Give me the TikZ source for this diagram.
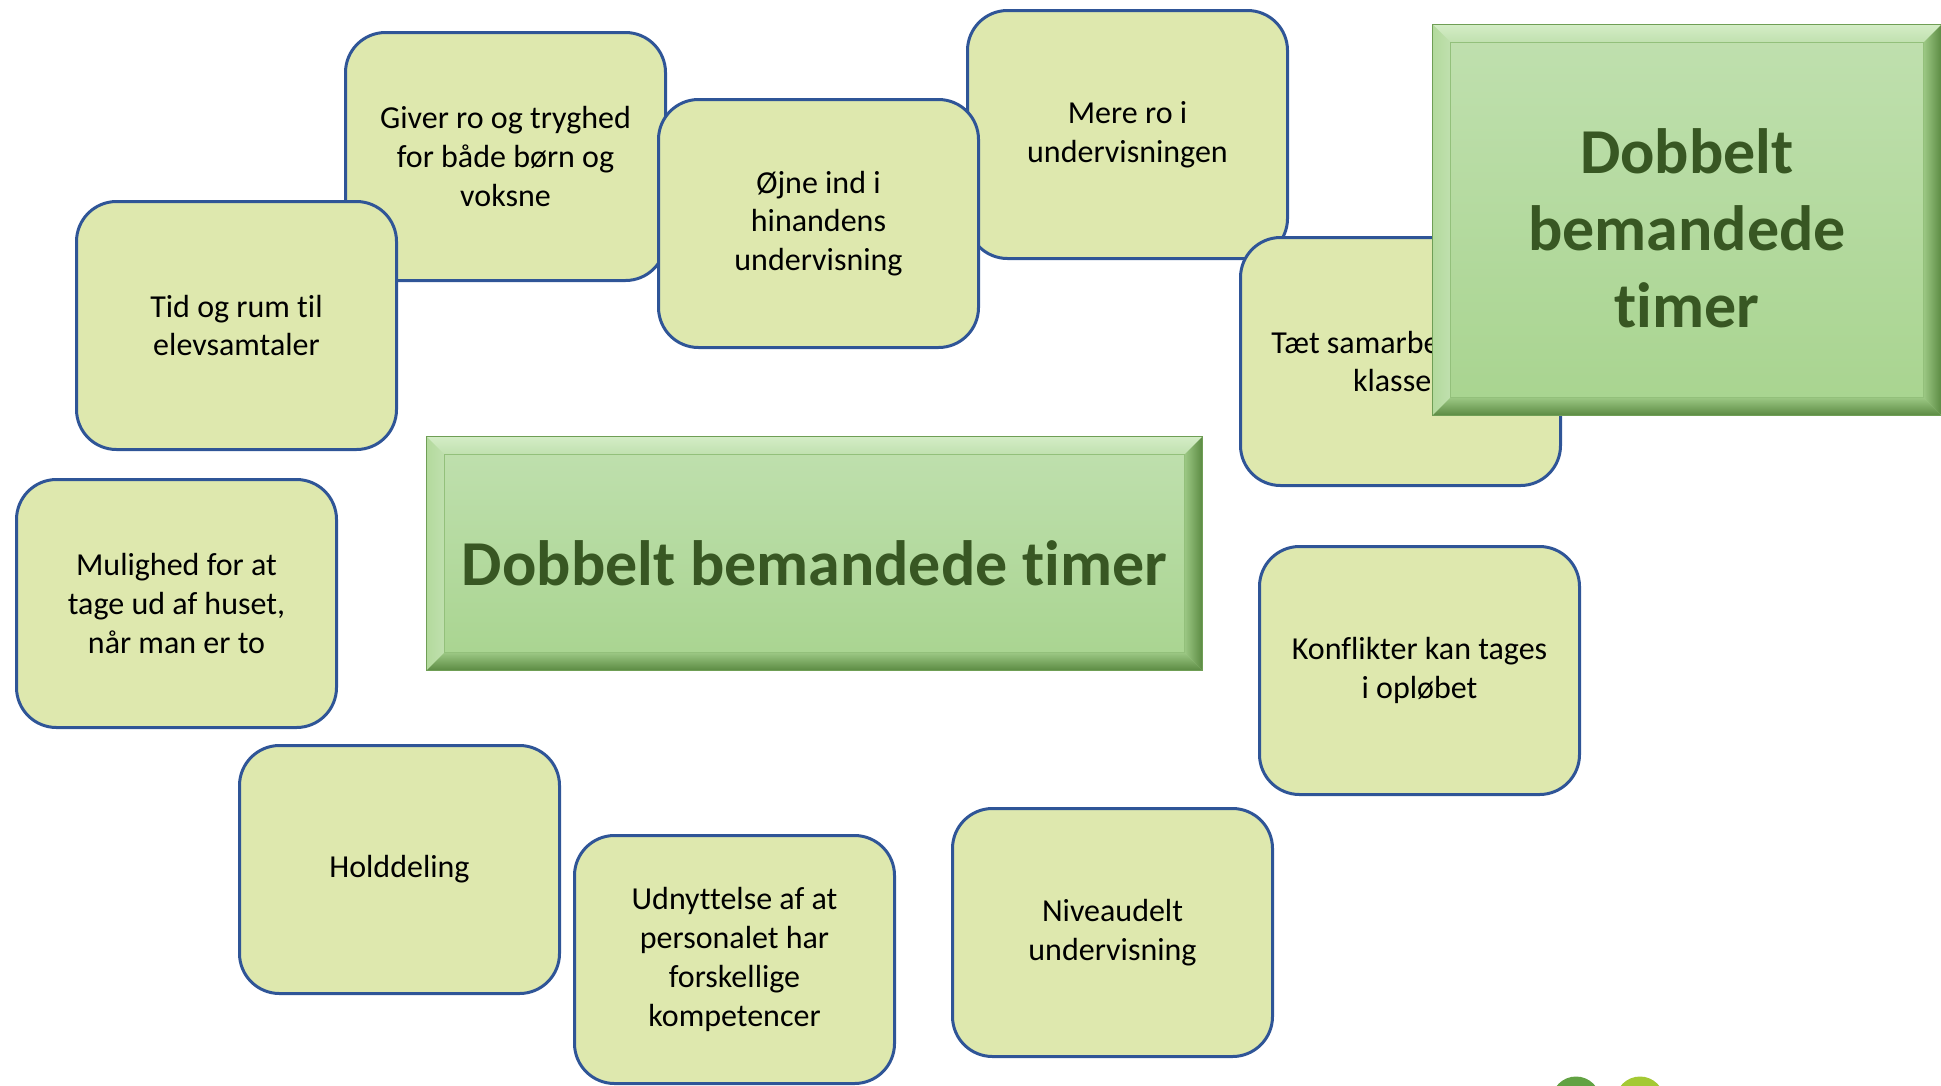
\documentclass[tikz,border=0pt]{standalone}
\usepackage{fontspec}
\setmainfont{Carlito}[Ligatures={NoCommon,NoContextual}]
\usepackage{tikz}
\usetikzlibrary{calc,shapes}

\definecolor{kortfyld}{HTML}{DEE8AE}
\definecolor{kortkant}{HTML}{2F5597}
\definecolor{hovtop}{HTML}{C0E0AF}
\definecolor{hovbund}{HTML}{A8D48F}
\definecolor{hovtekst}{HTML}{385723}
\definecolor{rand}{HTML}{6F9E55}
\definecolor{skraalys}{HTML}{D4EDC6}
\definecolor{skraavenstre}{HTML}{B3DA9D}
\definecolor{skraamork}{HTML}{5B8A42}
\definecolor{skraamid}{HTML}{9CC884}
\definecolor{indrelinje}{HTML}{93C07B}
\definecolor{cirkelA}{HTML}{62A243}
\definecolor{cirkelB}{HTML}{A4C934}

% ekstra luft over teksten
\newcommand{\luftover}[2]{\raisebox{0pt}[\dimexpr\height+#1\relax]{#2}}

\begin{document}
\begin{tikzpicture}[x=1pt,y=-1pt]
             \tikzstyle{kort}=[draw=kortkant,fill=kortfyld,line width=3pt,rounded corners=40pt,
              minimum width=320pt,minimum height=248pt,anchor=north west,align=center,
              font=\fontsize{32pt}{38.8pt}\selectfont]
             \tikzstyle{hoved}=[draw=rand,line width=1pt,shade,top color=hovtop,bottom color=hovbund,
              anchor=north west,align=center,text=hovtekst,inner sep=0pt,
              font=\fontsize{64pt}{77pt}\selectfont\bfseries,
              path picture={
               \path (path picture bounding box.north west) coordinate (bnw)
                     (path picture bounding box.north east) coordinate (bne)
                     (path picture bounding box.south west) coordinate (bsw)
                     (path picture bounding box.south east) coordinate (bse);
               % skraa kanter
               \shade[top color=skraalys,bottom color=hovtop] (bnw) -- (bne) -- ($(bne)+(-18pt,-18pt)$) -- ($(bnw)+(18pt,-18pt)$) -- cycle;
               \shade[left color=skraavenstre,right color=hovtop] (bnw) -- ($(bnw)+(18pt,-18pt)$) -- ($(bsw)+(18pt,18pt)$) -- (bsw) -- cycle;
               \shade[left color=skraamid,right color=skraamork] (bne) -- (bse) -- ($(bse)+(-18pt,18pt)$) -- ($(bne)+(-18pt,-18pt)$) -- cycle;
               \shade[top color=skraamid,bottom color=skraamork] (bsw) -- ($(bsw)+(18pt,18pt)$) -- ($(bse)+(-18pt,18pt)$) -- (bse) -- cycle;
               \draw [indrelinje,line width=1pt] ($(bnw)+(18pt,-18pt)$) rectangle ($(bse)+(-18pt,18pt)$);
              }]
             \useasboundingbox (0,0) rectangle (1941,1085);

             % kort bagerst
             \node [kort] (mere) at (966,9) {Mere ro i\\undervisningen};
             \node [kort] (giver) at (344,31) {Giver ro og tryghed\\for både børn og\\voksne};
             \node [kort] (ojne) at (657,98) {Øjne ind i\\hinandens\\undervisning};
             \node [kort] (tid) at (75,200) {Tid og rum til\\elevsamtaler};
             \node [kort] (taet) at (1239,236) {Tæt samarbejde om\\klassen};

             % overskrift oeverst til hoejre
             \node [hoved,minimum width=509pt,minimum height=391pt] (hjoerne) at (1432,24)
                   {\luftover{16pt}{\parbox{480pt}{\centering Dobbelt\\bemandede\\timer}}};

             % midterfelt
             \node [hoved,minimum width=776pt,minimum height=234pt] (midt) at (426,436)
                   {\luftover{20pt}{Dobbelt bemandede timer}};

             \node [kort] (mulighed) at (15,478) {Mulighed for at\\tage ud af huset,\\når man er to};
             \node [kort] (konflikt) at (1258,545) {Konflikter kan tages\\i opløbet};
             \node [kort] (hold) at (238,744) {Holddeling};
             \node [kort] (niveau) at (951,807) {Niveaudelt\\undervisning};
             \node [kort] (udnyt) at (573,834) {Udnyttelse af at\\personalet har\\forskellige\\kompetencer};

             % cirkler nederst
             \fill [cirkelA] (1576,1101) circle (24.5);
             \fill [cirkelB] (1640,1101) circle (24.5);
         \end{tikzpicture}
\end{document}
